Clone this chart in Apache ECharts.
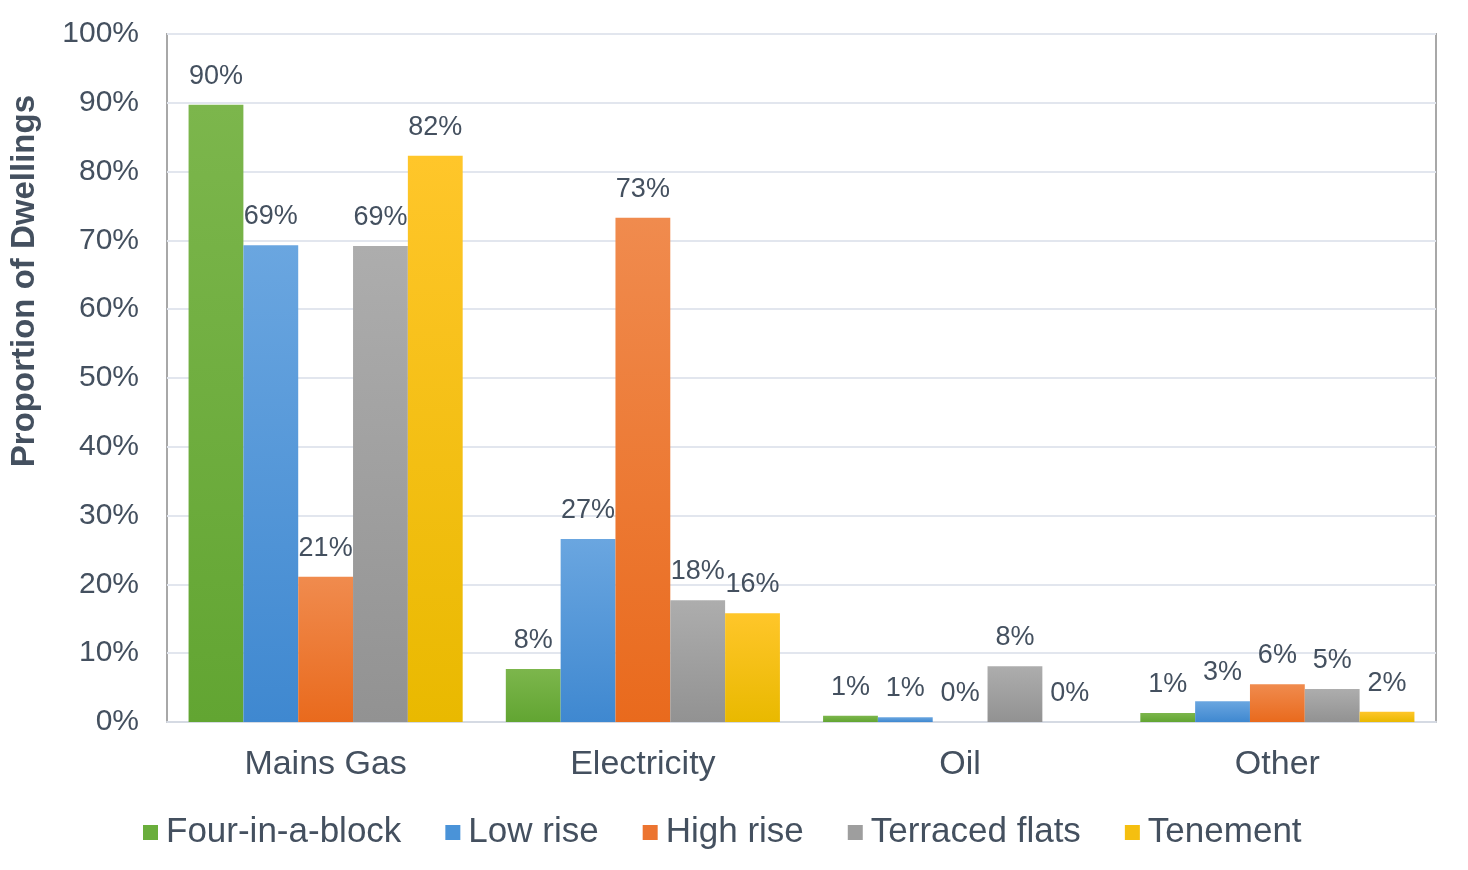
<!DOCTYPE html>
<html>
<head>
<meta charset="utf-8">
<script src="https://cdn.jsdelivr.net/npm/echarts@6/dist/echarts.min.js"></script>
<style>html,body{margin:0;padding:0;background:#fff}#c{width:1468px;height:870px}</style>
</head>
<body>
<div id="c"></div>
<script>
const categories = ['Mains Gas', 'Electricity', 'Oil', 'Other'];
const seriesNames = ['Four-in-a-block', 'Low rise', 'High rise', 'Terraced flats', 'Tenement'];
const fourInABlock = [89.7, 7.7, 0.9, 1.3];
const lowRise = [69.3, 26.6, 0.7, 3.0];
const highRise = [21.1, 73.3, 0, 5.5];
const terracedFlats = [69.2, 17.7, 8.1, 4.8];
const tenement = [82.3, 15.8, 0, 1.5];
const yTicks = [0, 10, 20, 30, 40, 50, 60, 70, 80, 90, 100];

const values = [fourInABlock, lowRise, highRise, terracedFlats, tenement];
const colorPairs = [
  ['#7cb64c', '#62a532'],
  ['#6aa6e0', '#3f88d0'],
  ['#f08b4e', '#e96a1d'],
  ['#adadad', '#929292'],
  ['#ffc62a', '#e9b900']
];
const legendColors = ['#6aae3c', '#4a93d8', '#ec7430', '#9e9e9e', '#f5bf10'];
const textColor = '#44505f';
const font = 'Liberation Sans, Arial, sans-serif';

const chart = echarts.init(document.getElementById('c'));
chart.setOption({
  animation: false,
  backgroundColor: '#fff',
  grid: { left: 167, right: 32, top: 34, bottom: 148, show: true, borderColor: '#a8a8a8', borderWidth: 2, backgroundColor: 'transparent' },
  legend: {
    bottom: 15, left: 138,
    itemWidth: 15, itemHeight: 15, itemGap: 44,
    icon: 'rect',
    textStyle: { color: textColor, fontSize: 35, fontFamily: font, padding: [0, 0, 0, 3] },
    data: seriesNames.map((n, i) => ({ name: n, itemStyle: { color: legendColors[i] } }))
  },
  xAxis: {
    type: 'category', data: categories,
    axisLine: { show: true, lineStyle: { color: '#d5dae3', width: 2 } },
    axisTick: { show: false },
    axisLabel: { color: textColor, fontSize: 34, fontFamily: font, margin: 26 }
  },
  yAxis: {
    type: 'value', min: 0, max: 100, interval: 10,
    axisLine: { show: false }, axisTick: { show: false },
    splitLine: { lineStyle: { color: '#e2e6ee', width: 2 } },
    axisLabel: { color: textColor, fontSize: 30, fontFamily: font, margin: 28, formatter: v => yTicks.includes(v) ? v + '%' : '' }
  },
  graphic: [{
    type: 'text', left: 8, top: 95, rotation: Math.PI / 2,
    style: { text: 'Proportion of Dwellings', fill: textColor, font: 'bold 33px ' + font }
  }],
  series: values.map((d, i) => ({
    name: seriesNames[i], type: 'bar', data: d,
    barGap: '0%', barCategoryGap: '13.6%',
    itemStyle: {
      color: new echarts.graphic.LinearGradient(0, 0, 0, 1, [
        { offset: 0, color: colorPairs[i][0] }, { offset: 1, color: colorPairs[i][1] }
      ], false)
    },
    label: { show: true, position: 'top', distance: 15, color: textColor, fontSize: 27, fontFamily: font, formatter: p => Math.round(p.value) + '%' }
  }))
});
</script>
</body>
</html>
